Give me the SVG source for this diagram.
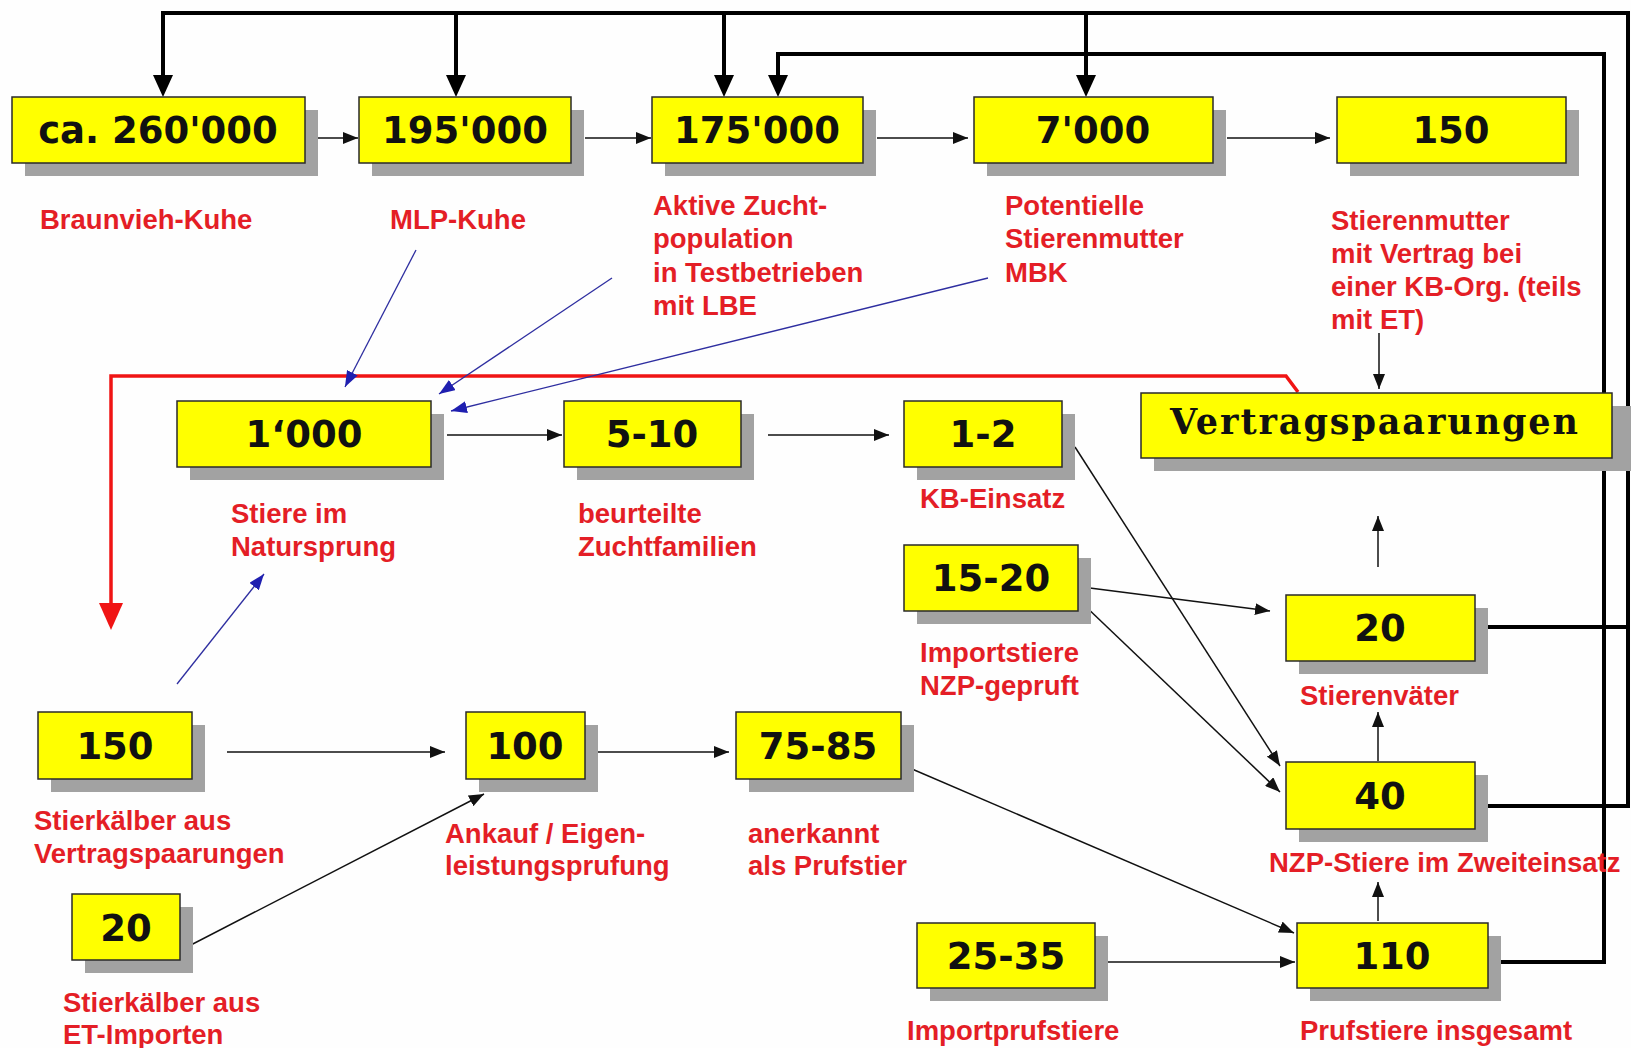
<svg xmlns="http://www.w3.org/2000/svg" width="1631" height="1048" viewBox="0 0 1631 1048">
<style>
.sh{fill:#a2a2a2}
.box{fill:#ffff00;stroke:#2a2a2a;stroke-width:1.5}
.num{font-family:"DejaVu Sans","Liberation Sans",sans-serif;font-weight:bold;font-size:37px;fill:#111;text-anchor:middle}
.big{font-family:"DejaVu Serif","Liberation Serif",serif;font-weight:bold;font-size:35px;fill:#111;text-anchor:middle}
.lbl{font-family:"Liberation Sans",Arial,sans-serif;font-weight:bold;font-size:27.5px;fill:#e41e26}
.thick{stroke:#000;stroke-width:4;fill:none}
.thin{stroke:#111;stroke-width:1.5;fill:none}
.blue{stroke:#2e2ea0;stroke-width:1.3;fill:none}
.red{stroke:#f01414;stroke-width:3.5;fill:none}
</style>
<defs>
<marker id="ab" markerUnits="userSpaceOnUse" viewBox="0 0 22 20" markerWidth="22" markerHeight="20" refX="2" refY="10" orient="auto"><path d="M0,0 L22,10 L0,20 z" fill="#000"/></marker>
<marker id="at" markerUnits="userSpaceOnUse" viewBox="0 0 15 12" markerWidth="15" markerHeight="12" refX="15" refY="6" orient="auto"><path d="M0,0 L15,6 L0,12 z" fill="#111"/></marker>
<marker id="abl" markerUnits="userSpaceOnUse" viewBox="0 0 16 12" markerWidth="16" markerHeight="12" refX="16" refY="6" orient="auto"><path d="M0,0 L16,6 L0,12 z" fill="#1f1fb0"/></marker>
<marker id="ar" markerUnits="userSpaceOnUse" viewBox="0 0 27 24" markerWidth="27" markerHeight="24" refX="3" refY="12" orient="auto"><path d="M0,0 L27,12 L0,24 z" fill="#f01414"/></marker>
</defs>
<rect width="1631" height="1048" fill="#fefefe"/>

<g id="connectors">
  <path class="thick" d="M1477,806 H1628 V13 H163 V77" marker-end="url(#ab)"/>
  <path class="thick" d="M1477,627 H1628"/>
  <path class="thick" d="M456,13 V77" marker-end="url(#ab)"/>
  <path class="thick" d="M724,13 V77" marker-end="url(#ab)"/>
  <path class="thick" d="M1086,13 V77" marker-end="url(#ab)"/>
  <path class="thick" d="M1490,962 H1604 V54 H778 V77" marker-end="url(#ab)"/>
  <path class="red" d="M1298,392 L1286,376 H111 V606" marker-end="url(#ar)"/>
  <path class="thin" d="M318,138 H358" marker-end="url(#at)"/>
  <path class="thin" d="M585,138 H651" marker-end="url(#at)"/>
  <path class="thin" d="M877,138 H968" marker-end="url(#at)"/>
  <path class="thin" d="M1227,138 H1330" marker-end="url(#at)"/>
  <path class="thin" d="M1379,333 V389" marker-end="url(#at)"/>
  <path class="thin" d="M447,435 H562" marker-end="url(#at)"/>
  <path class="thin" d="M768,435 H889" marker-end="url(#at)"/>
  <path class="blue" d="M416,250 L345,387" marker-end="url(#abl)"/>
  <path class="blue" d="M612,278 L439,394" marker-end="url(#abl)"/>
  <path class="blue" d="M988,278 L451,411" marker-end="url(#abl)"/>
  <path class="blue" d="M177,684 L264,574" marker-end="url(#abl)"/>
  <path class="thin" d="M1075,447 L1280,766" marker-end="url(#at)"/>
  <path class="thin" d="M1082,587 L1270,611" marker-end="url(#at)"/>
  <path class="thin" d="M1082,603 L1280,792" marker-end="url(#at)"/>
  <path class="thin" d="M1378,567 V516" marker-end="url(#at)"/>
  <path class="thin" d="M1378,761 V712" marker-end="url(#at)"/>
  <path class="thin" d="M1378,921 V882" marker-end="url(#at)"/>
  <path class="thin" d="M227,752 H445" marker-end="url(#at)"/>
  <path class="thin" d="M598,752 H729" marker-end="url(#at)"/>
  <path class="thin" d="M187,947 L484,794" marker-end="url(#at)"/>
  <path class="thin" d="M912,769 L1294,933" marker-end="url(#at)"/>
  <path class="thin" d="M1108,962 H1295" marker-end="url(#at)"/>
</g>

<g id="n-braunvieh">
  <rect class="sh" x="25" y="110" width="293" height="66"/>
  <rect class="box" x="12" y="97" width="293" height="66"/>
  <text class="num" x="158" y="143">ca. 260'000</text>
  <text class="lbl" x="40" y="229">Braunvieh-Kuhe</text>
</g>
<g id="n-mlp">
  <rect class="sh" x="372" y="110" width="212" height="66"/>
  <rect class="box" x="359" y="97" width="212" height="66"/>
  <text class="num" x="465" y="143">195'000</text>
  <text class="lbl" x="390" y="229">MLP-Kuhe</text>
</g>
<g id="n-aktive">
  <rect class="sh" x="665" y="110" width="211" height="66"/>
  <rect class="box" x="652" y="97" width="211" height="66"/>
  <text class="num" x="757" y="143">175'000</text>
  <text class="lbl" x="653" y="215">Aktive Zucht-</text>
  <text class="lbl" x="653" y="248">population</text>
  <text class="lbl" x="653" y="282">in Testbetrieben</text>
  <text class="lbl" x="653" y="315">mit LBE</text>
</g>
<g id="n-potentielle">
  <rect class="sh" x="987" y="110" width="239" height="66"/>
  <rect class="box" x="974" y="97" width="239" height="66"/>
  <text class="num" x="1093" y="143">7'000</text>
  <text class="lbl" x="1005" y="215">Potentielle</text>
  <text class="lbl" x="1005" y="248">Stierenmutter</text>
  <text class="lbl" x="1005" y="282">MBK</text>
</g>
<g id="n-stierenmuetter">
  <rect class="sh" x="1350" y="110" width="229" height="66"/>
  <rect class="box" x="1337" y="97" width="229" height="66"/>
  <text class="num" x="1451" y="143">150</text>
  <text class="lbl" x="1331" y="230">Stierenmutter</text>
  <text class="lbl" x="1331" y="263">mit Vertrag bei</text>
  <text class="lbl" x="1331" y="296">einer KB-Org. (teils</text>
  <text class="lbl" x="1331" y="329">mit ET)</text>
</g>
<g id="n-vertragspaarungen">
  <rect class="sh" x="1154" y="406" width="477" height="65"/>
  <rect class="box" x="1141" y="393" width="471" height="65"/>
  <text class="big" x="1374" y="434" textLength="408" lengthAdjust="spacing">Vertragspaarungen</text>
</g>
<g id="n-natursprung">
  <rect class="sh" x="190" y="414" width="254" height="66"/>
  <rect class="box" x="177" y="401" width="254" height="66"/>
  <text class="num" x="304" y="447">1‘000</text>
  <text class="lbl" x="231" y="523">Stiere im</text>
  <text class="lbl" x="231" y="556">Natursprung</text>
</g>
<g id="n-zuchtfamilien">
  <rect class="sh" x="577" y="414" width="177" height="66"/>
  <rect class="box" x="564" y="401" width="177" height="66"/>
  <text class="num" x="652" y="447">5-10</text>
  <text class="lbl" x="578" y="523">beurteilte</text>
  <text class="lbl" x="578" y="556">Zuchtfamilien</text>
</g>
<g id="n-kb">
  <rect class="sh" x="917" y="414" width="158" height="66"/>
  <rect class="box" x="904" y="401" width="158" height="66"/>
  <text class="num" x="983" y="447">1-2</text>
  <text class="lbl" x="920" y="508">KB-Einsatz</text>
</g>
<g id="n-importstiere">
  <rect class="sh" x="917" y="558" width="174" height="66"/>
  <rect class="box" x="904" y="545" width="174" height="66"/>
  <text class="num" x="991" y="591">15-20</text>
  <text class="lbl" x="920" y="662">Importstiere</text>
  <text class="lbl" x="920" y="695">NZP-gepruft</text>
</g>
<g id="n-stierenvaeter">
  <rect class="sh" x="1299" y="608" width="189" height="66"/>
  <rect class="box" x="1286" y="595" width="189" height="66"/>
  <text class="num" x="1380" y="641">20</text>
  <text class="lbl" x="1300" y="705">Stierenväter</text>
</g>
<g id="n-zweiteinsatz">
  <rect class="sh" x="1299" y="775" width="189" height="67"/>
  <rect class="box" x="1286" y="762" width="189" height="67"/>
  <text class="num" x="1380" y="809">40</text>
  <text class="lbl" x="1269" y="872">NZP-Stiere im Zweiteinsatz</text>
</g>
<g id="n-pruefstiere">
  <rect class="sh" x="1310" y="936" width="191" height="65"/>
  <rect class="box" x="1297" y="923" width="191" height="65"/>
  <text class="num" x="1392" y="969">110</text>
  <text class="lbl" x="1300" y="1040">Prufstiere insgesamt</text>
</g>
<g id="n-importpruefstiere">
  <rect class="sh" x="930" y="936" width="178" height="65"/>
  <rect class="box" x="917" y="923" width="178" height="65"/>
  <text class="num" x="1006" y="969">25-35</text>
  <text class="lbl" x="907" y="1040">Importprufstiere</text>
</g>
<g id="n-stierkaelber-vp">
  <rect class="sh" x="51" y="725" width="154" height="67"/>
  <rect class="box" x="38" y="712" width="154" height="67"/>
  <text class="num" x="115" y="759">150</text>
  <text class="lbl" x="34" y="830">Stierkälber aus</text>
  <text class="lbl" x="34" y="863">Vertragspaarungen</text>
</g>
<g id="n-stierkaelber-et">
  <rect class="sh" x="85" y="907" width="108" height="66"/>
  <rect class="box" x="72" y="894" width="108" height="66"/>
  <text class="num" x="126" y="941">20</text>
  <text class="lbl" x="63" y="1012">Stierkälber aus</text>
  <text class="lbl" x="63" y="1044">ET-Importen</text>
</g>
<g id="n-ankauf">
  <rect class="sh" x="479" y="725" width="119" height="67"/>
  <rect class="box" x="466" y="712" width="119" height="67"/>
  <text class="num" x="525" y="759">100</text>
  <text class="lbl" x="445" y="843">Ankauf / Eigen-</text>
  <text class="lbl" x="445" y="875">leistungsprufung</text>
</g>
<g id="n-anerkannt">
  <rect class="sh" x="749" y="725" width="165" height="67"/>
  <rect class="box" x="736" y="712" width="165" height="67"/>
  <text class="num" x="818" y="759">75-85</text>
  <text class="lbl" x="748" y="843">anerkannt</text>
  <text class="lbl" x="748" y="875">als Prufstier</text>
</g>
</svg>
